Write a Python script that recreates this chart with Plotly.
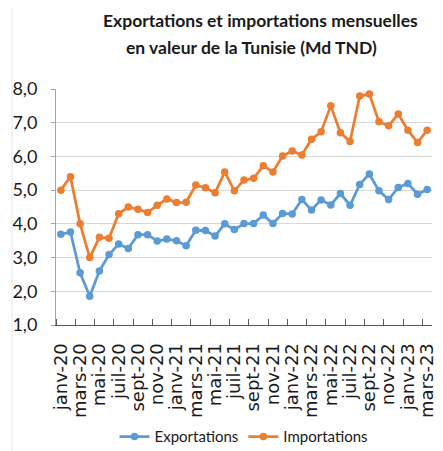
import plotly.graph_objects as go

months = ["janv-20","févr-20","mars-20","avr-20","mai-20","juin-20","juil-20","août-20","sept-20","oct-20","nov-20","déc-20",
          "janv-21","févr-21","mars-21","avr-21","mai-21","juin-21","juil-21","août-21","sept-21","oct-21","nov-21","déc-21",
          "janv-22","févr-22","mars-22","avr-22","mai-22","juin-22","juil-22","août-22","sept-22","oct-22","nov-22","déc-22",
          "janv-23","févr-23","mars-23"]

exportations = [3.69, 3.76, 2.55, 1.85, 2.60, 3.09, 3.40, 3.27, 3.68, 3.68, 3.49, 3.55,
                3.50, 3.35, 3.81, 3.80, 3.64, 4.00, 3.83, 4.01, 4.01, 4.26, 4.01, 4.31,
                4.29, 4.72, 4.41, 4.71, 4.56, 4.90, 4.55, 5.17, 5.48, 4.98, 4.72, 5.08,
                5.20, 4.88, 5.02]

importations = [5.00, 5.40, 4.00, 3.00, 3.60, 3.57, 4.30, 4.50, 4.43, 4.34, 4.55, 4.74,
                4.63, 4.64, 5.15, 5.07, 4.92, 5.54, 4.98, 5.30, 5.35, 5.72, 5.54, 6.01,
                6.16, 6.04, 6.51, 6.73, 7.50, 6.70, 6.44, 7.79, 7.85, 7.03, 6.91, 7.26,
                6.78, 6.41, 6.78]

title_lines = ["Exportations et importations mensuelles", "en valeur de la Tunisie (Md TND)"]

idx = list(range(len(months)))
tick_idx = idx[::2]
tick_txt = [months[i] for i in tick_idx]

BLUE = "#5B9BD5"
ORANGE = "#ED7D31"
TXT = "#1a1a1a"

fig = go.Figure()
fig.add_trace(go.Scatter(x=idx, y=exportations, name="Exportations", mode="lines+markers",
                         line=dict(color=BLUE, width=2.75), marker=dict(color=BLUE, size=7.5)))
fig.add_trace(go.Scatter(x=idx, y=importations, name="Importations", mode="lines+markers",
                         line=dict(color=ORANGE, width=2.75), marker=dict(color=ORANGE, size=7.5)))

fig.update_layout(
    width=435, height=443, autosize=False,
    margin=dict(l=48, r=11, t=81, b=126, autoexpand=False),
    paper_bgcolor="white", plot_bgcolor="white",
    separators=", ",
    showlegend=True,
    legend=dict(orientation="h", x=0.5, xanchor="center", xref="paper",
                y=0.032, yref="container", yanchor="middle",
                font=dict(family="Lato", size=15, color=TXT), itemwidth=30,
                tracegroupgap=0),
    font=dict(family="Lato", color=TXT),
)
fig.update_yaxes(range=[1, 8], dtick=1, tick0=1, tickformat=".1f", automargin=False,
                 showgrid=True, gridcolor="#d9d9d9", gridwidth=1,
                 showline=True, linecolor="#a6a6a6", linewidth=1,
                 ticks="outside", ticklen=4, tickcolor="#a6a6a6", ticklabelstandoff=10,
                 tickfont=dict(family="Lato", size=18, color=TXT), zeroline=False)
fig.update_xaxes(range=[-0.5, len(months) - 0.5], tickmode="array", tickvals=tick_idx, ticktext=tick_txt,
                 tickangle=-90, ticks="", showgrid=False, zeroline=False, automargin=False,
                 showline=True, linecolor="#595959", linewidth=1, ticklabelstandoff=10,
                 minor=dict(ticks="inside", tick0=-0.5, dtick=2, ticklen=6, tickcolor="#595959", showgrid=False),
                 tickfont=dict(family="DejaVu Sans", size=18, color=TXT))

for line, shift, xc in [(title_lines[0], 69, 0.545), (title_lines[1], 42, 0.519)]:
    fig.add_annotation(text="<b>" + line + "</b>",
                       xref="paper", yref="paper", x=xc, y=1.0, yanchor="middle", xanchor="center",
                       yshift=shift, showarrow=False, align="center",
                       font=dict(family="Lato", size=17.5, color=TXT))

fig.add_shape(type="line", xref="paper", yref="paper", x0=-0.117, x1=-0.117, y0=-0.534, y1=1.377,
              line=dict(color="#e6e6e6", width=1))

fig.write_html("out.html")
